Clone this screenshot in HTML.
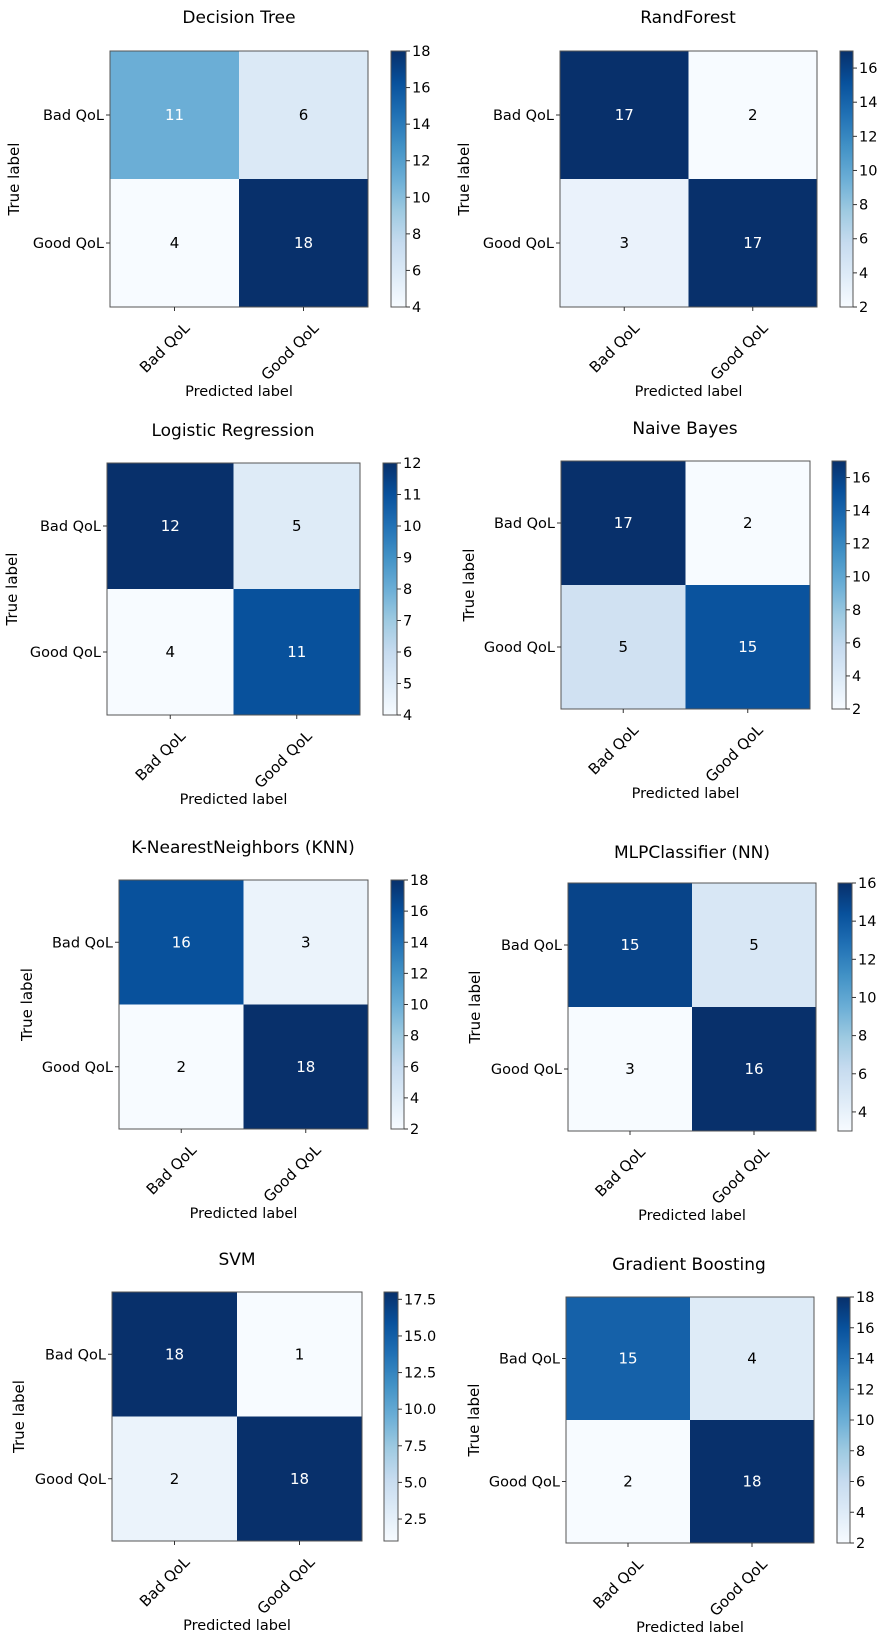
<!DOCTYPE html>
<html><head><meta charset="utf-8">
<style>
html,body{margin:0;padding:0;background:#fff;}
svg{display:block;font-family:"DejaVu Sans","Liberation Sans",sans-serif;}
</style></head>
<body>
<svg id="fig" width="883" height="1637" viewBox="0 0 883 1637" xmlns="http://www.w3.org/2000/svg"></svg>
<script>
const titles = ["Decision Tree","RandForest","Logistic Regression","Naive Bayes","K-NearestNeighbors (KNN)","MLPClassifier (NN)","SVM","Gradient Boosting"];
const classLabels = ["Bad QoL","Good QoL"];
const dtValues = [11,6,4,18];
const rfValues = [17,2,3,17];
const lrValues = [12,5,4,11];
const nbValues = [17,2,5,15];
const knnValues = [16,3,2,18];
const mlpValues = [15,5,3,16];
const svmValues = [18,1,2,18];
const gbValues = [15,4,2,18];
const allValues = [dtValues,rfValues,lrValues,nbValues,knnValues,mlpValues,svmValues,gbValues];
const cbarTicks = [
 [4,6,8,10,12,14,16,18],
 [2,4,6,8,10,12,14,16],
 [4,5,6,7,8,9,10,11,12],
 [2,4,6,8,10,12,14,16],
 [2,4,6,8,10,12,14,16,18],
 [4,6,8,10,12,14,16],
 [2.5,5.0,7.5,10.0,12.5,15.0,17.5],
 [2,4,6,8,10,12,14,16,18]
];
const cbarTickDecimals = [0,0,0,0,0,0,1,0];

// layout (pixel geometry only)
const layout = [
 {l:110,r:368,t:51,b:307,cl:391,cr:406,tx:239,ty:23,yl:14},
 {l:560,r:817,t:51,b:307,cl:840,cr:853,tx:688,ty:23,yl:464},
 {l:107,r:360,t:463,b:715,cl:383,cr:397,tx:233,ty:436,yl:12},
 {l:561,r:810,t:461,b:709,cl:832,cr:846,tx:685,ty:434,yl:469},
 {l:119,r:368,t:880,b:1129,cl:391,cr:404,tx:243,ty:853,yl:27},
 {l:568,r:816,t:883,b:1131,cl:838,cr:852,tx:692,ty:858,yl:475},
 {l:112,r:362,t:1292,b:1541,cl:384,cr:398,tx:237,ty:1265,yl:19},
 {l:566,r:814,t:1297,b:1543,cl:837,cr:850,tx:689,ty:1270,yl:474}
];

const stops = ["#f7fbff","#deebf7","#c6dbef","#9ecae1","#6baed6","#4292c6","#2171b5","#08519c","#08306b"];
function hex(h){return [1,3,5].map(i=>parseInt(h.substr(i,2),16));}
function blues(t){
  t=Math.max(0,Math.min(1,t));
  const p=t*(stops.length-1), i=Math.min(Math.floor(p),stops.length-2), f=p-i;
  const a=hex(stops[i]), b=hex(stops[i+1]);
  return "rgb("+a.map((v,k)=>Math.round(v+(b[k]-v)*f)).join(",")+")";
}
const NS="http://www.w3.org/2000/svg";
const svg=document.getElementById("fig");
function mk(tag,attrs,parent){
  const e=document.createElementNS(NS,tag);
  for(const k in attrs) e.setAttribute(k,attrs[k]);
  (parent||svg).appendChild(e);
  return e;
}
const defs=mk("defs",{});
allValues.forEach((vals,p)=>{
  const L=layout[p];
  const vmin=Math.min(...vals), vmax=Math.max(...vals);
  const g=mk("g",{});
  
  
  const cw=(L.r-L.l)/2, ch=(L.b-L.t)/2;
  const xScale=j=>L.l+cw*j, yScale=i=>L.t+ch*i;
  const tt=mk("text",{x:L.tx,y:L.ty,"text-anchor":"middle","font-size":"17","fill":"#000"},g);
  tt.textContent=titles[p];
  
  
  vals.forEach((v,k)=>{
    const i=Math.floor(k/2), j=k%2;
    const c=mk("rect",{x:xScale(j),y:yScale(i),width:cw,height:ch,fill:blues((v-vmin)/(vmax-vmin))},g);
    
    
    const t=mk("text",{x:xScale(j)+cw/2,y:yScale(i)+ch/2+5,"text-anchor":"middle","font-size":"15","fill":v>(vmax/2)?"#fff":"#000"},g);
    t.textContent=v;
    
    
  });
  const fr=mk("rect",{x:L.l,y:L.t,width:L.r-L.l,height:L.b-L.t,fill:"none",stroke:"#555","stroke-width":"1"},g);
  
  
  classLabels.forEach((lab,i)=>{
    const y=yScale(i)+ch/2;
    mk("line",{x1:L.l-4,x2:L.l,y1:y,y2:y,stroke:"#333"},g);
    const t=mk("text",{x:L.l-6,y:y+5,"text-anchor":"end","font-size":"14.5","fill":"#000"},g);
    t.textContent=lab;
    
    
  });
  classLabels.forEach((lab,j)=>{
    const x=xScale(j)+cw/2;
    mk("line",{x1:x,x2:x,y1:L.b,y2:L.b+4,stroke:"#333"},g);
    const ax=x+16, ay=L.b+22;
    const t=mk("text",{x:ax,y:ay,"text-anchor":"end","font-size":"15","fill":"#000",transform:"rotate(-45 "+ax+" "+ay+")"},g);
    t.textContent=lab;
    
    
  });
  const xl=mk("text",{x:(L.l+L.r)/2,y:L.b+89,"text-anchor":"middle","font-size":"14.5","fill":"#000"},g);
  xl.textContent="Predicted label";
  
  
  const ymid=(L.t+L.b)/2;
  const yl=mk("text",{x:L.yl,y:ymid,"text-anchor":"middle","font-size":"15","fill":"#000",transform:"rotate(-90 "+L.yl+" "+ymid+")","dominant-baseline":"central"},g);
  yl.textContent="True label";
  
  
  const gid="grad"+p;
  const lg=mk("linearGradient",{id:gid,x1:"0",y1:"1",x2:"0",y2:"0"},defs);
  stops.forEach((s,k)=>mk("stop",{offset:(k/(stops.length-1)),"stop-color":s},lg));
  const cb=mk("rect",{x:L.cl,y:L.t,width:L.cr-L.cl,height:L.b-L.t,fill:"url(#"+gid+")",stroke:"#555","stroke-width":"1"},g);
  
  
  const cScale=v=>L.b-(v-vmin)/(vmax-vmin)*(L.b-L.t);
  cbarTicks[p].forEach(v=>{
    const y=cScale(v);
    mk("line",{x1:L.cr,x2:L.cr+4,y1:y,y2:y,stroke:"#333"},g);
    const t=mk("text",{x:L.cr+6,y:y+5,"font-size":"14.5","fill":"#000"},g);
    t.textContent=v.toFixed(cbarTickDecimals[p]);
    
    
  });
});
</script>
</body></html>
